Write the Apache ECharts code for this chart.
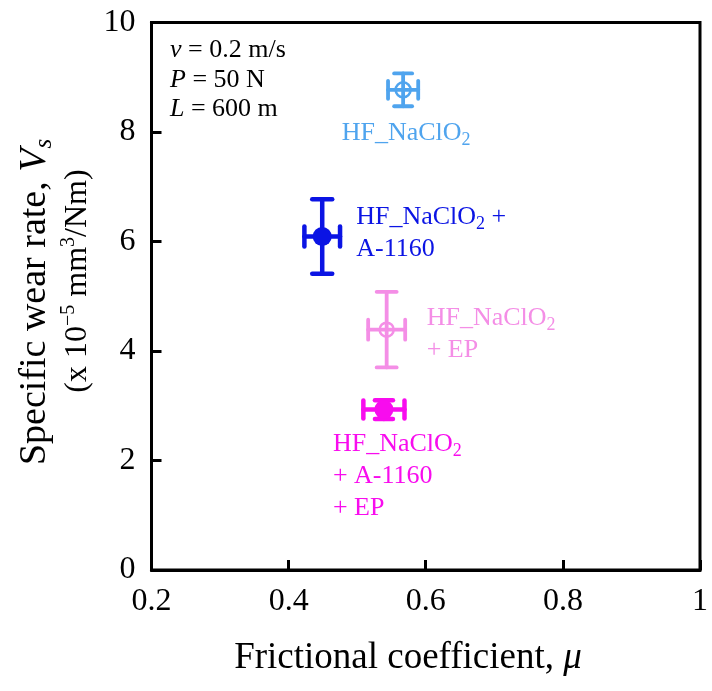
<!DOCTYPE html>
<html>
<head>
<meta charset="utf-8">
<script src="https://cdn.jsdelivr.net/npm/echarts@6/dist/echarts.min.js"></script>
<style>html,body{margin:0;padding:0;background:#fff}#chart{width:712px;height:691px}</style>
</head>
<body>
<div id="chart"></div>
<script>
// ---- data ----
const sampleNames = ['HF_NaClO2', 'HF_NaClO2 + A-1160', 'HF_NaClO2 + EP', 'HF_NaClO2 + A-1160 + EP'];
const frictionCoef = [0.567, 0.449, 0.543, 0.539];
const wearRate = [8.77, 6.09, 4.39, 2.93];
const frictionErr = [0.022, 0.026, 0.027, 0.030];
const wearErr = [0.30, 0.68, 0.69, 0.17];
const xTickValues = [0.2, 0.4, 0.6, 0.8, 1];
const yTickValues = [0, 2, 4, 6, 8, 10];

// ---- styles ----
const FONT = "'Liberation Serif', 'Times New Roman', serif";
const sampleStyles = [
  { color: '#4fa4ee', filled: false, r: 7.5, lw: 3.8, cap: 9,
    label: '{n|HF_NaClO}{s|2}', align: 'center', offset: [3, 43] },
  { color: '#0b14e4', filled: true, r: 9.5, lw: 4.5, cap: 10,
    label: '{n|HF_NaClO}{s|2}{n| +}\n{n|A-1160}', align: 'left', offset: [34, -3] },
  { color: '#f48ee6', filled: false, r: 7, lw: 3.8, cap: 10,
    label: '{n|HF_NaClO}{s|2}\n{n|+ EP}', align: 'left', offset: [40, 5] },
  { color: '#f80cee', filled: true, r: 9.5, lw: 4.5, cap: 9,
    label: '{n|HF_NaClO}{s|2}\n{n|+ A-1160}\n{n|+ EP}', align: 'left', offset: [-51, 67] }
];

const series = [];
sampleNames.forEach(function (name, i) {
  const st = sampleStyles[i];
  series.push({
    name: name + ' err',
    type: 'custom',
    data: [[frictionCoef[i], wearRate[i], frictionErr[i], wearErr[i]]],
    z: 2,
    silent: true,
    renderItem: function (params, api) {
      const x = api.value(0), y = api.value(1), ex = api.value(2), ey = api.value(3);
      const l = api.coord([x - ex, y]), r = api.coord([x + ex, y]);
      const t = api.coord([x, y + ey]), b = api.coord([x, y - ey]);
      const ls = { stroke: st.color, lineWidth: st.lw, lineCap: 'round' };
      const c = st.cap;
      return {
        type: 'group',
        children: [
          { type: 'line', shape: { x1: l[0], y1: l[1], x2: r[0], y2: r[1] }, style: ls },
          { type: 'line', shape: { x1: t[0], y1: t[1], x2: b[0], y2: b[1] }, style: ls },
          { type: 'line', shape: { x1: l[0], y1: l[1] - c, x2: l[0], y2: l[1] + c }, style: ls },
          { type: 'line', shape: { x1: r[0], y1: r[1] - c, x2: r[0], y2: r[1] + c }, style: ls },
          { type: 'line', shape: { x1: t[0] - c, y1: t[1], x2: t[0] + c, y2: t[1] }, style: ls },
          { type: 'line', shape: { x1: b[0] - c, y1: b[1], x2: b[0] + c, y2: b[1] }, style: ls }
        ]
      };
    }
  });
  series.push({
    name: name,
    type: 'scatter',
    z: 3,
    data: [[frictionCoef[i], wearRate[i]]],
    symbol: 'circle',
    symbolSize: st.r * 2,
    itemStyle: {
      color: st.filled ? st.color : 'rgba(255,255,255,0)',
      borderColor: st.color,
      borderWidth: st.filled ? 0 : 2.5,
      opacity: 1
    },
    label: {
      show: true,
      position: 'inside',
      offset: st.offset,
      align: st.align,
      verticalAlign: 'middle',
      formatter: st.label,
      rich: {
        n: { fontFamily: FONT, fontSize: 26, color: st.color, lineHeight: 32, verticalAlign: 'middle' },
        s: { fontFamily: FONT, fontSize: 18, color: st.color, lineHeight: 22, verticalAlign: 'bottom' }
      }
    },
    emphasis: { disabled: true }
  });
});

const chart = echarts.init(document.getElementById('chart'), null, { renderer: 'canvas' });
chart.setOption({
  animation: false,
  backgroundColor: '#ffffff',
  grid: { left: 151.5, right: 12, top: 22.5, bottom: 121, show: true, borderColor: '#000', borderWidth: 3, backgroundColor: 'transparent' },
  xAxis: {
    type: 'value', min: xTickValues[0], max: xTickValues[xTickValues.length - 1], interval: 0.2,
    axisLine: { show: true, onZero: false, lineStyle: { color: '#000', width: 3 } },
    axisTick: { show: true, inside: true, length: 10, lineStyle: { color: '#000', width: 3 } },
    splitLine: { show: false },
    axisLabel: { fontFamily: FONT, fontSize: 32, color: '#000', margin: 16,
      formatter: function (v) { return String(Math.round(v * 10) / 10); } }
  },
  yAxis: {
    type: 'value', min: yTickValues[0], max: yTickValues[yTickValues.length - 1], interval: 2,
    axisLine: { show: true, onZero: false, lineStyle: { color: '#000', width: 3 } },
    axisTick: { show: true, inside: true, length: 10, lineStyle: { color: '#000', width: 3 } },
    splitLine: { show: false },
    axisLabel: { fontFamily: FONT, fontSize: 32, color: '#000', margin: 16 }
  },
  graphic: [
    { type: 'text', left: 170, top: 37, z: 10,
      style: { text: '{i|v}{n| = 0.2 m/s}', rich: { i: { fontFamily: FONT, fontSize: 26, fontStyle: 'italic', fill: '#000' }, n: { fontFamily: FONT, fontSize: 26, fill: '#000' } } } },
    { type: 'text', left: 170, top: 67, z: 10,
      style: { text: '{i|P}{n| = 50 N}', rich: { i: { fontFamily: FONT, fontSize: 26, fontStyle: 'italic', fill: '#000' }, n: { fontFamily: FONT, fontSize: 26, fill: '#000' } } } },
    { type: 'text', left: 170, top: 96, z: 10,
      style: { text: '{i|L}{n| = 600 m}', rich: { i: { fontFamily: FONT, fontSize: 26, fontStyle: 'italic', fill: '#000' }, n: { fontFamily: FONT, fontSize: 26, fill: '#000' } } } },
    { type: 'text', x: 408, y: 658, z: 10,
      style: { text: '{n|Frictional coefficient, }{i|μ}', textAlign: 'center', textVerticalAlign: 'middle',
        rich: { n: { fontFamily: FONT, fontSize: 37, fill: '#000' }, i: { fontFamily: FONT, fontSize: 37, fontStyle: 'italic', fill: '#000' } } } },
    { type: 'text', x: 35, y: 302, rotation: Math.PI / 2, z: 10,
      style: { text: '{n|Specific wear rate, }{i|V}{s|s}', textAlign: 'center', textVerticalAlign: 'middle',
        rich: { n: { fontFamily: FONT, fontSize: 38, fill: '#000', lineHeight: 44, verticalAlign: 'middle' },
                i: { fontFamily: FONT, fontSize: 38, fontStyle: 'italic', fill: '#000', lineHeight: 44, verticalAlign: 'middle' },
                s: { fontFamily: FONT, fontSize: 25, fontStyle: 'italic', fill: '#000', lineHeight: 16, verticalAlign: 'bottom' } } } },
    { type: 'text', x: 78, y: 281, rotation: Math.PI / 2, z: 10,
      style: { text: '{n|(x 10}{p|−5}{n| mm}{p|3}{n|/Nm)}', textAlign: 'center', textVerticalAlign: 'middle',
        rich: { n: { fontFamily: FONT, fontSize: 32, fill: '#000', lineHeight: 38, verticalAlign: 'middle' },
                p: { fontFamily: FONT, fontSize: 20, fill: '#000', lineHeight: 14, verticalAlign: 'top' } } } }
  ],
  series: series
});
</script>
</body>
</html>
